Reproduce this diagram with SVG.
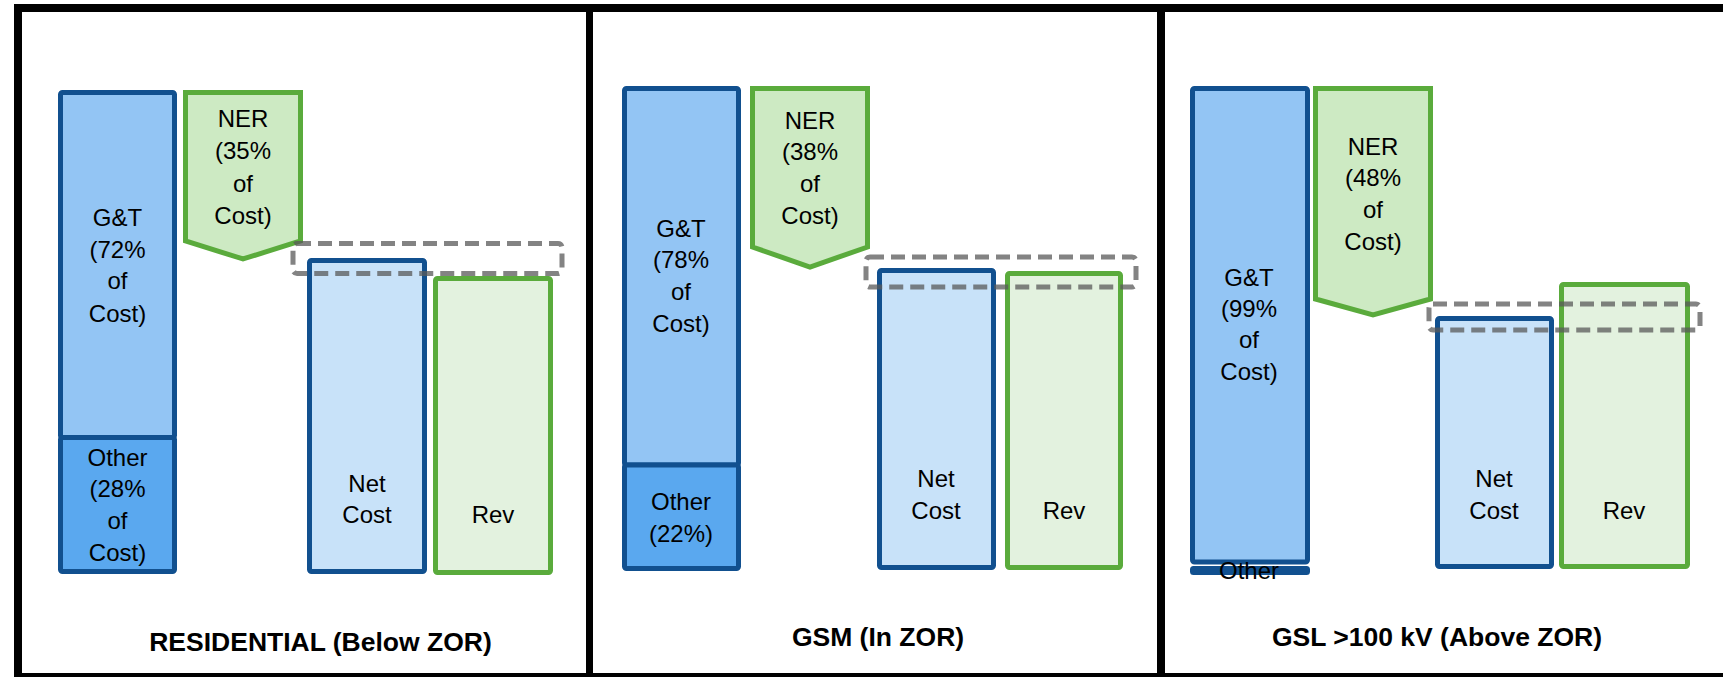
<svg xmlns="http://www.w3.org/2000/svg" width="1723" height="677" viewBox="0 0 1723 677">
  <style>
    .frame { fill: #000000; }
    .gt { fill: #93c5f4; stroke: #11508f; stroke-width: 5; }
    .other { fill: #5aa8ef; stroke: #11508f; stroke-width: 5; }
    .net { fill: #c8e2f9; stroke: #11508f; stroke-width: 5; }
    .ner { fill: #cdeac3; stroke: #5aab3c; stroke-width: 5; stroke-linejoin: miter; }
    .rev { fill: #e3f2df; stroke: #5aab3c; stroke-width: 5; }
    .gap { fill: none; stroke: #595959; stroke-opacity: 0.75; stroke-width: 5; stroke-dasharray: 14 7; }
    .lbl { font-family: "Liberation Sans", Arial, sans-serif; font-size: 24px; fill: #000000; text-anchor: middle; }
    .title { font-family: "Liberation Sans", Arial, sans-serif; font-size: 26.5px; font-weight: bold; fill: #000000; text-anchor: middle; }
  </style>

  <rect width="1723" height="677" fill="#ffffff"/>

  <!-- panel frame and dividers -->
  <g id="frame">
    <rect class="frame" x="14" y="4" width="1709" height="8"/>
    <rect class="frame" x="14" y="4" width="8" height="673"/>
    <rect class="frame" x="14" y="673" width="1709" height="4"/>
    <rect class="frame" x="586" y="4" width="7" height="673"/>
    <rect class="frame" x="1157" y="4" width="8" height="673"/>
  </g>

  <!-- Panel 1: Residential -->
  <g id="res-gt">
    <rect class="gt" x="60.5" y="92.5" width="114" height="345" rx="2"/>
    <text class="lbl" x="117.5" y="226">G&amp;T</text>
    <text class="lbl" x="117.5" y="258">(72%</text>
    <text class="lbl" x="117.5" y="289">of</text>
    <text class="lbl" x="117.5" y="322">Cost)</text>
  </g>
  <g id="res-other">
    <rect class="other" x="60.5" y="437.5" width="114" height="134" rx="2"/>
    <text class="lbl" x="117.5" y="466">Other</text>
    <text class="lbl" x="117.5" y="497">(28%</text>
    <text class="lbl" x="117.5" y="529">of</text>
    <text class="lbl" x="117.5" y="561">Cost)</text>
  </g>
  <g id="res-ner">
    <polygon class="ner" points="185.5,92.5 300.5,92.5 300.5,241 243,259 185.5,241"/>
    <text class="lbl" x="243" y="127">NER</text>
    <text class="lbl" x="243" y="159">(35%</text>
    <text class="lbl" x="243" y="192">of</text>
    <text class="lbl" x="243" y="224">Cost)</text>
  </g>
  <g id="res-net">
    <rect class="net" x="309.5" y="260.5" width="115" height="311" rx="2"/>
    <text class="lbl" x="367" y="492">Net</text>
    <text class="lbl" x="367" y="523">Cost</text>
  </g>
  <g id="res-rev">
    <rect class="rev" x="435.5" y="278.5" width="115" height="294" rx="2"/>
    <text class="lbl" x="493" y="523">Rev</text>
  </g>
  <g id="res-gap">
    <rect class="gap" x="293" y="243.5" width="269" height="30" rx="4"/>
  </g>
  <g id="res-title">
    <text class="title" x="320.5" y="651">RESIDENTIAL (Below ZOR)</text>
  </g>

  <!-- Panel 2: GSM -->
  <g id="gsm-gt">
    <rect class="gt" x="624.5" y="88.5" width="114" height="376.5" rx="2"/>
    <text class="lbl" x="681" y="237">G&amp;T</text>
    <text class="lbl" x="681" y="268">(78%</text>
    <text class="lbl" x="681" y="300">of</text>
    <text class="lbl" x="681" y="332">Cost)</text>
  </g>
  <g id="gsm-other">
    <rect class="other" x="624.5" y="465" width="114" height="103.5" rx="2"/>
    <text class="lbl" x="681" y="510">Other</text>
    <text class="lbl" x="681" y="542">(22%)</text>
  </g>
  <g id="gsm-ner">
    <polygon class="ner" points="752.5,88.5 867.5,88.5 867.5,247 810,267 752.5,247"/>
    <text class="lbl" x="810" y="129">NER</text>
    <text class="lbl" x="810" y="160">(38%</text>
    <text class="lbl" x="810" y="192">of</text>
    <text class="lbl" x="810" y="224">Cost)</text>
  </g>
  <g id="gsm-net">
    <rect class="net" x="879.5" y="270.5" width="114" height="297" rx="2"/>
    <text class="lbl" x="936" y="487">Net</text>
    <text class="lbl" x="936" y="519">Cost</text>
  </g>
  <g id="gsm-rev">
    <rect class="rev" x="1007.5" y="273.5" width="113" height="294" rx="2"/>
    <text class="lbl" x="1064" y="519">Rev</text>
  </g>
  <g id="gsm-gap">
    <rect class="gap" x="866" y="257" width="270" height="30" rx="4"/>
  </g>
  <g id="gsm-title">
    <text class="title" x="878" y="646">GSM (In ZOR)</text>
  </g>

  <!-- Panel 3: GSL >100 kV -->
  <g id="gsl-gt">
    <rect class="gt" x="1192.5" y="88.5" width="115" height="473.5" rx="2"/>
    <text class="lbl" x="1249" y="286">G&amp;T</text>
    <text class="lbl" x="1249" y="317">(99%</text>
    <text class="lbl" x="1249" y="348">of</text>
    <text class="lbl" x="1249" y="380">Cost)</text>
  </g>
  <g id="gsl-other">
    <rect class="other" x="1192.5" y="568.5" width="115" height="4" rx="1"/>
    <text class="lbl" x="1249" y="579">Other</text>
  </g>
  <g id="gsl-ner">
    <polygon class="ner" points="1315.5,88.5 1430.5,88.5 1430.5,299 1373,315 1315.5,299"/>
    <text class="lbl" x="1373" y="155">NER</text>
    <text class="lbl" x="1373" y="186">(48%</text>
    <text class="lbl" x="1373" y="218">of</text>
    <text class="lbl" x="1373" y="250">Cost)</text>
  </g>
  <g id="gsl-net">
    <rect class="net" x="1437.5" y="318.5" width="114" height="248" rx="2"/>
    <text class="lbl" x="1494" y="487">Net</text>
    <text class="lbl" x="1494" y="519">Cost</text>
  </g>
  <g id="gsl-rev">
    <rect class="rev" x="1561.5" y="284.5" width="126" height="282" rx="2"/>
    <text class="lbl" x="1624" y="519">Rev</text>
  </g>
  <g id="gsl-gap">
    <rect class="gap" x="1429" y="304" width="271" height="26" rx="4"/>
  </g>
  <g id="gsl-title">
    <text class="title" x="1437" y="646">GSL &gt;100 kV (Above ZOR)</text>
  </g>

  <!-- no connectors in this figure -->
  <g id="connectors"/>
</svg>
